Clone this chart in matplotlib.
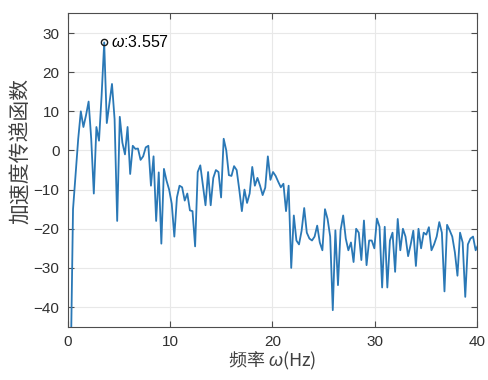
import numpy as np
import matplotlib
matplotlib.use("Agg")
import matplotlib.pyplot as plt

plt.rcParams['font.family'] = ['Liberation Sans', 'Noto Sans CJK SC', 'DejaVu Sans']
plt.rcParams['mathtext.fontset'] = 'custom'
plt.rcParams['mathtext.it'] = 'Liberation Sans:italic'
plt.rcParams['mathtext.rm'] = 'Liberation Sans'

# frequency resolution of the spectrum (Hz per bin)
df = 3.557 / 14
bins = np.arange(1, 159)
freq = bins * df

# acceleration transfer function magnitude (dB)
accel_tf = [
    -60, -15, -6, 3, 10, 6, 9, 12.5, 3, -11,
    6, 2.5, 14, 27.6, 7, 12, 17, 8, -18, 8.6,
    2, -1, 6, -6, 1.2, 0.4, 0.5, -2.4, -1.5, 0.8,
    1.2, -9, -1.5, -18, -5.6, -23.8, -4.7, -7.7, -10, -13.6,
    -22, -12, -9, -9.4, -12.8, -11, -15.3, -15.5, -24.5, -5.5,
    -3.8, -9, -14, -5.5, -14, -7, -5, -5.5, -12, 3,
    0, -6.3, -6.5, -4, -5, -10, -15.5, -10, -13.4, -11,
    -4.2, -9, -7, -9, -11.4, -9.5, -1.5, -7.5, -5.5, -6.5,
    -8, -9.4, -8.5, -15.5, -9, -30, -16.6, -23, -24, -20.5,
    -14.7, -21, -22.5, -23, -22, -19.2, -23.5, -25.5, -15, -17.5,
    -22, -40.8, -20.4, -34.4, -20.4, -16.6, -22.5, -25.5, -23.5, -28.5,
    -20, -21, -28, -17.9, -29.3, -23, -23, -25, -17.4, -19.5,
    -35, -19.5, -35, -23, -21, -31, -17.5, -25.5, -20, -22,
    -27, -24, -20.5, -29.5, -20, -25, -21, -21.5, -19.6, -25.5,
    -24, -22, -18.3, -21, -36, -19, -20.4, -22, -26, -32,
    -21, -23.5, -37.4, -24, -22.5, -22, -25.5, -24,
]

x_ticks = [0, 10, 20, 30, 40]
y_ticks = [-40, -30, -20, -10, 0, 10, 20, 30]

axis_col = '#4d4d4d'
label_col = '#303030'
line_col = '#2a78b6'

fig = plt.figure(figsize=(4.88, 3.80), dpi=100)
ax = fig.add_axes([0.139, 0.1405, 0.838, 0.824])

ax.plot(freq, accel_tf, color=line_col, lw=1.3, zorder=3)

ipk = int(np.argmax(accel_tf))
ax.plot(freq[ipk], accel_tf[ipk], 'o', ms=4.5, mfc='none', mec='#1a1a1a',
        mew=1.0, zorder=4)
ax.annotate(r'$\omega$:%.3f' % freq[ipk], (freq[ipk], accel_tf[ipk]),
            xytext=(5, 0), textcoords='offset points', va='center', ha='left',
            fontsize=11.5, color='black', zorder=5)

ax.set_xlim(0, 40)
ax.set_ylim(-45, 35)
ax.set_xticks(x_ticks)
ax.set_yticks(y_ticks)
ax.grid(True, color='#e8e8e8', lw=0.8)
ax.set_axisbelow(True)

for sp in ax.spines.values():
    sp.set_color(axis_col)
    sp.set_linewidth(0.8)
ax.tick_params(direction='in', length=4, width=0.8, colors=axis_col,
               labelcolor=label_col, labelsize=11, top=True, right=True, pad=6)

ax.set_xlabel('频率 $\\omega$(Hz)', fontsize=13, color='#404040', labelpad=1,
              family=['Noto Sans CJK SC', 'DejaVu Sans'])
ax.set_ylabel('加速度传递函数', fontsize=15, color='#404040',
              family=['Noto Sans CJK SC', 'DejaVu Sans'])
ax.yaxis.set_label_coords(-0.088, 0.56)

fig.savefig('out.png', dpi=100)
